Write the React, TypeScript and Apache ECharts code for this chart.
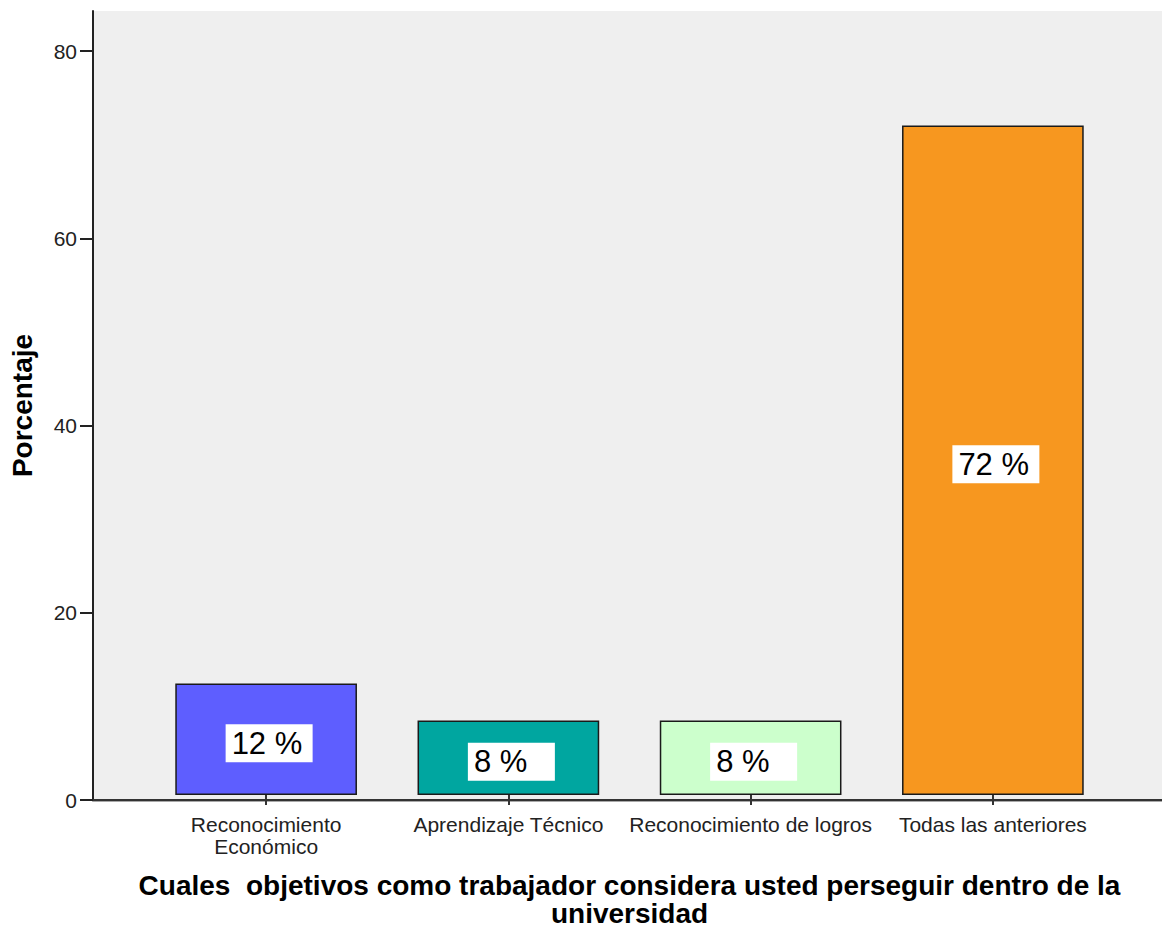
import React, { useEffect, useRef } from 'react';
import * as echarts from 'echarts';

const categories = ['Reconocimiento\nEconómico', 'Aprendizaje Técnico', 'Reconocimiento de logros', 'Todas las anteriores'];
const percentages = [12, 8, 8, 72];
const barColors = ['#5e5eff', '#00a6a0', '#ccffcc', '#f7971f'];
const yMin = 0;
const yMax = 80;
const yInterval = 20;
const xTitle = 'Cuales  objetivos como trabajador considera usted perseguir dentro de la\nuniversidad';
const yTitle = 'Porcentaje';

const FONT = "'Liberation Sans', Arial, sans-serif";

export default function App() {
  const ref = useRef<HTMLDivElement>(null);
  useEffect(() => {
    document.body.style.margin = '0';
    const chart = echarts.init(ref.current!, null, { renderer: 'svg' });
    const hidden = { show: false };
    chart.setOption({
      animation: false,
      backgroundColor: '#ffffff',
      textStyle: { fontFamily: FONT },
      grid: [
        { left: 93, right: 0, top: 11, bottom: 132, show: true, backgroundColor: '#efefef', borderWidth: 0 },
        { left: 93, right: 0, top: 51, bottom: 132 },
        { left: 145, right: 48, top: 51, bottom: 132 },
      ],
      xAxis: [
        {
          gridIndex: 0, type: 'value', position: 'top', min: 0, max: 1,
          axisLine: { show: true, lineStyle: { color: '#8c8c8c', width: 2.5 } },
          axisTick: hidden, axisLabel: hidden, splitLine: hidden,
        },
        {
          gridIndex: 0, type: 'value', position: 'bottom', min: 0, max: 1,
          axisLine: { show: true, lineStyle: { color: '#333333', width: 2 } },
          axisTick: hidden, axisLabel: hidden, splitLine: hidden,
        },
        { gridIndex: 1, type: 'value', show: false, min: 0, max: 1 },
        {
          gridIndex: 2, type: 'category', data: categories,
          axisLine: { show: false },
          axisTick: { show: true, alignWithLabel: true, length: 10, lineStyle: { color: '#333333', width: 2 } },
          axisLabel: { interval: 0, fontSize: 21, color: '#222222', margin: 18, lineHeight: 22, fontFamily: FONT },
          splitLine: hidden,
          name: xTitle, nameLocation: 'middle', nameGap: 76,
          nameTextStyle: { fontWeight: 'bold', fontSize: 28, lineHeight: 28, color: '#000000', fontFamily: FONT },
        },
      ],
      yAxis: [
        {
          gridIndex: 0, type: 'value', min: 0, max: 1,
          axisLine: { show: true, lineStyle: { color: '#222222', width: 2 } },
          axisTick: hidden, axisLabel: hidden, splitLine: hidden,
          name: yTitle, nameLocation: 'middle', nameGap: 57,
          nameTextStyle: { fontWeight: 'bold', fontSize: 28, color: '#000000', fontFamily: FONT },
        },
        {
          gridIndex: 1, type: 'value', min: yMin, max: yMax, interval: yInterval,
          axisLine: { show: false },
          axisTick: { show: true, length: 13, lineStyle: { color: '#222222', width: 2 } },
          axisLabel: { fontSize: 21, color: '#222222', margin: 16, fontFamily: FONT },
          splitLine: hidden,
        },
        { gridIndex: 2, type: 'value', min: yMin, max: yMax, show: false },
      ],
      series: [
        {
          type: 'bar',
          xAxisIndex: 3,
          yAxisIndex: 2,
          barCategoryGap: '25%',
          data: percentages.map((v, i) => ({ value: v, itemStyle: { color: barColors[i] } })),
          itemStyle: { borderColor: '#1a1a1a', borderWidth: 1.5 },
          label: {
            show: true,
            position: 'inside',
            offset: [3, 4],
            formatter: '{v|{c} %}',
            backgroundColor: '#ffffff',
            padding: [2, 7, 2, 6],
            rich: {
              v: { width: 74, align: 'left', fontSize: 31, lineHeight: 34, color: '#000000', fontFamily: FONT },
            },
          },
        },
      ],
    });
    return () => chart.dispose();
  }, []);
  return <div ref={ref} style={{ width: 1162, height: 932 }} />;
}
